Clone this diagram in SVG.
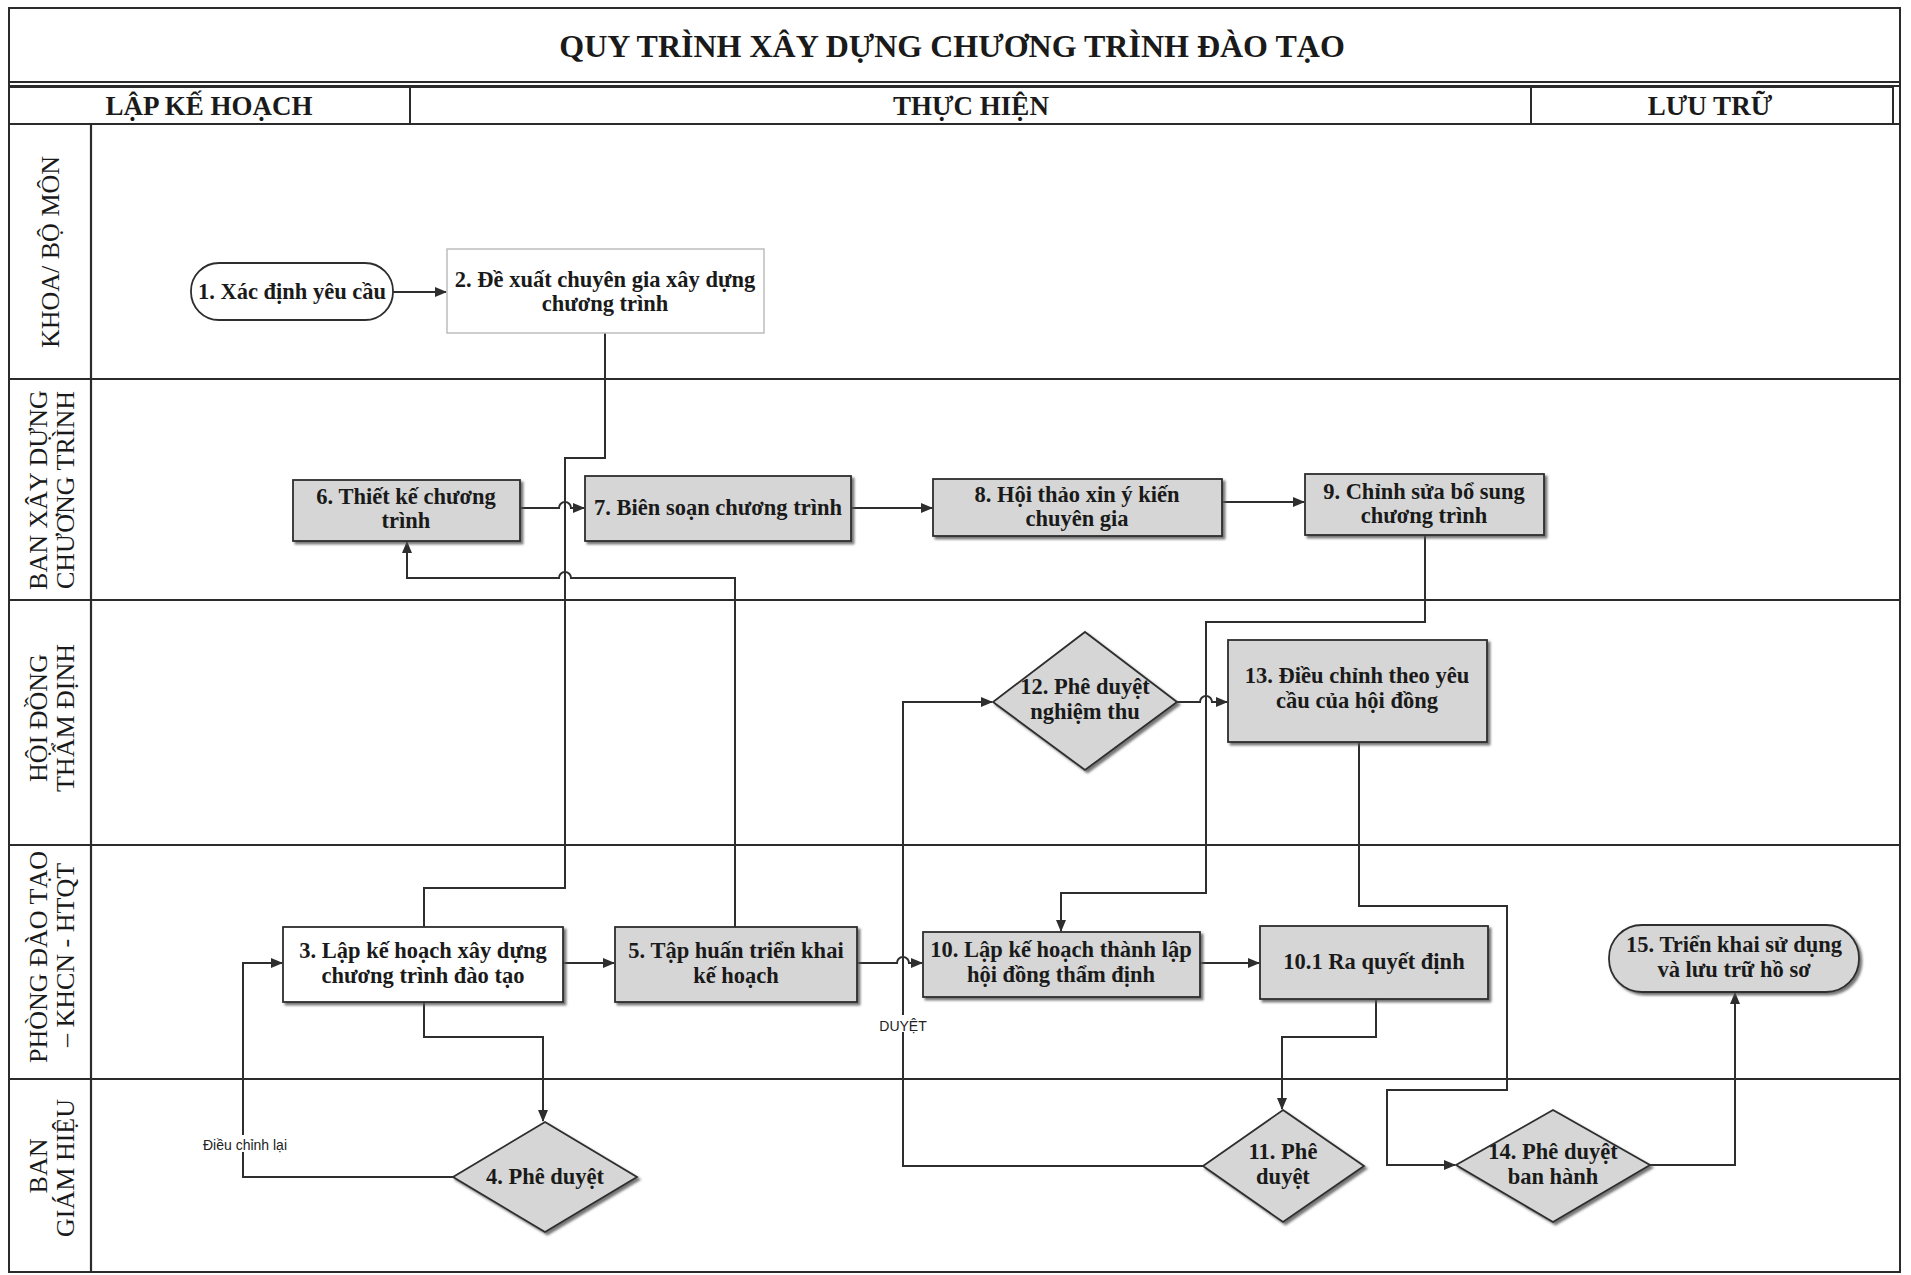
<svg xmlns="http://www.w3.org/2000/svg" width="1911" height="1275" viewBox="0 0 1911 1275">
<defs>
<style>
.frame{fill:none;stroke:#2b2b2b;stroke-width:2}
.lane{stroke:#2b2b2b;stroke-width:2.2;fill:none}
.title{font-family:"Liberation Serif",serif;font-weight:bold;font-size:32px;fill:#1a1a1a}
.hdr{font-family:"Liberation Serif",serif;font-weight:bold;font-size:27px;fill:#1a1a1a}
.lanetxt{font-family:"Liberation Serif",serif;font-size:26px;fill:#1a1a1a}
.nt{font-family:"Liberation Serif",serif;font-weight:bold;font-size:22.5px;fill:#1a1a1a;text-anchor:middle}
.gray{fill:#d6d6d6;stroke:#2e2e2e;stroke-width:1.8}
.white{fill:#ffffff;stroke:#2e2e2e;stroke-width:1.8}
.conn{fill:none;stroke:#2e2e2e;stroke-width:2}
.lbl{font-family:"Liberation Sans",sans-serif;font-size:14px;fill:#222;text-anchor:middle}
</style>
<marker id="arr" markerWidth="12" markerHeight="10" refX="11" refY="5" orient="auto" markerUnits="userSpaceOnUse">
<path d="M0,0 L12,5 L0,10 z" fill="#2e2e2e"/>
</marker>
<filter id="sh" x="-10%" y="-10%" width="130%" height="140%">
<feDropShadow dx="2.5" dy="2.5" stdDeviation="1" flood-color="#555" flood-opacity="0.8"/>
</filter>
</defs>
<rect x="0" y="0" width="1911" height="1275" fill="#ffffff"/>

<g id="frame">
<rect class="frame" x="9" y="8" width="1891" height="1264"/>
<line class="lane" x1="9" y1="82" x2="1900" y2="82"/>
<line class="lane" x1="9" y1="86" x2="1900" y2="86"/>
<rect class="frame" x="9" y="87" width="401" height="37"/>
<rect class="frame" x="410" y="87" width="1121" height="37"/>
<rect class="frame" x="1531" y="87" width="362" height="37"/>
<line class="lane" x1="9" y1="124" x2="1900" y2="124"/>
<line class="lane" x1="9" y1="379" x2="1900" y2="379"/>
<line class="lane" x1="9" y1="600" x2="1900" y2="600"/>
<line class="lane" x1="9" y1="845" x2="1900" y2="845"/>
<line class="lane" x1="9" y1="1079" x2="1900" y2="1079"/>
<line class="lane" x1="91" y1="124" x2="91" y2="1272"/>
<text class="title" x="952" y="57" text-anchor="middle">QUY TRÌNH XÂY DỰNG CHƯƠNG TRÌNH ĐÀO TẠO</text>
<text class="hdr" x="209" y="115" text-anchor="middle">LẬP KẾ HOẠCH</text>
<text class="hdr" x="971" y="115" text-anchor="middle">THỰC HIỆN</text>
<text class="hdr" x="1710" y="115" text-anchor="middle">LƯU TRỮ</text>
</g>

<g id="lanes">
<text class="lanetxt" text-anchor="middle" transform="translate(59,252) rotate(-90)">KHOA/ BỘ MÔN</text>
<text class="lanetxt" text-anchor="middle" transform="translate(47,490) rotate(-90)">BAN XÂY DỰNG</text>
<text class="lanetxt" text-anchor="middle" transform="translate(74,490) rotate(-90)">CHƯƠNG TRÌNH</text>
<text class="lanetxt" text-anchor="middle" transform="translate(47,718) rotate(-90)">HỘI ĐỒNG</text>
<text class="lanetxt" text-anchor="middle" transform="translate(74,718) rotate(-90)">THẨM ĐỊNH</text>
<text class="lanetxt" text-anchor="middle" transform="translate(47,957) rotate(-90)">PHÒNG ĐÀO TẠO</text>
<text class="lanetxt" text-anchor="middle" transform="translate(74,955) rotate(-90)">– KHCN - HTQT</text>
<text class="lanetxt" text-anchor="middle" transform="translate(47,1166) rotate(-90)">BAN</text>
<text class="lanetxt" text-anchor="middle" transform="translate(74,1168) rotate(-90)">GIÁM HIỆU</text>
</g>

<g id="connectors">
<path class="conn" d="M393,292 H446" marker-end="url(#arr)"/>
<path class="conn" d="M605,333 V458 H565 V888 H424 V927"/>
<path class="conn" d="M520,508 H559 A6,6 0 0 1 571,508 H584" marker-end="url(#arr)"/>
<path class="conn" d="M851,508 H932" marker-end="url(#arr)"/>
<path class="conn" d="M1222,502 H1304" marker-end="url(#arr)"/>
<path class="conn" d="M735,927 V578 H571 A6,6 0 0 0 559,578 H407 V542" marker-end="url(#arr)"/>
<path class="conn" d="M1425,535 V622 H1206 V893 H1061 V931" marker-end="url(#arr)"/>
<path class="conn" d="M563,963 H614" marker-end="url(#arr)"/>
<path class="conn" d="M857,963 H897 A6,6 0 0 1 909,963 H922" marker-end="url(#arr)"/>
<path class="conn" d="M1200,963 H1259" marker-end="url(#arr)"/>
<path class="conn" d="M424,1002 V1037 H543 V1121" marker-end="url(#arr)"/>
<path class="conn" d="M453,1177 H243 V963 H282" marker-end="url(#arr)"/>
<path class="conn" d="M1376,999 V1037 H1282 V1109" marker-end="url(#arr)"/>
<path class="conn" d="M1203,1166 H903 V702 H992" marker-end="url(#arr)"/>
<path class="conn" d="M1177,702 H1200 A6,6 0 0 1 1212,702 H1227" marker-end="url(#arr)"/>
<path class="conn" d="M1359,742 V906 H1507 V1090 H1387 V1165 H1455" marker-end="url(#arr)"/>
<path class="conn" d="M1650,1165 H1735 V993" marker-end="url(#arr)"/>
<rect x="218" y="1135" width="54" height="17" fill="#ffffff"/>
<text class="lbl" x="245" y="1150">Điều chỉnh lại</text>
<rect x="880" y="1015" width="46" height="17" fill="#ffffff"/>
<text class="lbl" x="903" y="1031">DUYỆT</text>
</g>

<g id="n1">
<rect class="white" x="191" y="263" width="202" height="57" rx="28" ry="28"/>
<text class="nt" x="292" y="299">1. Xác định yêu cầu</text>
</g>
<g id="n2">
<rect x="447" y="249" width="317" height="84" fill="#ffffff" stroke="#bdbdbd" stroke-width="1.5"/>
<text class="nt" x="605" y="287">2. Đề xuất chuyên gia xây dựng</text>
<text class="nt" x="605" y="311">chương trình</text>
</g>
<g id="n3">
<rect class="white" filter="url(#sh)" x="283" y="927" width="280" height="75"/>
<text class="nt" x="423" y="958">3. Lập kế hoạch xây dựng</text>
<text class="nt" x="423" y="983">chương trình đào tạo</text>
</g>
<g id="n4">
<polygon class="gray" filter="url(#sh)" points="545,1122 637,1177 545,1232 453,1177"/>
<text class="nt" x="545" y="1184">4. Phê duyệt</text>
</g>
<g id="n5">
<rect class="gray" filter="url(#sh)" x="615" y="927" width="242" height="75"/>
<text class="nt" x="736" y="958">5. Tập huấn triển khai</text>
<text class="nt" x="736" y="983">kế hoạch</text>
</g>
<g id="n6">
<rect class="gray" filter="url(#sh)" x="293" y="480" width="227" height="61"/>
<text class="nt" x="406" y="504">6. Thiết kế chương</text>
<text class="nt" x="406" y="528">trình</text>
</g>
<g id="n7">
<rect class="gray" filter="url(#sh)" x="585" y="476" width="266" height="65"/>
<text class="nt" x="718" y="515">7. Biên soạn chương trình</text>
</g>
<g id="n8">
<rect class="gray" filter="url(#sh)" x="933" y="479" width="289" height="57"/>
<text class="nt" x="1077" y="502">8. Hội thảo xin ý kiến</text>
<text class="nt" x="1077" y="526">chuyên gia</text>
</g>
<g id="n9">
<rect class="gray" filter="url(#sh)" x="1305" y="474" width="239" height="61"/>
<text class="nt" x="1424" y="499">9. Chỉnh sửa bổ sung</text>
<text class="nt" x="1424" y="523">chương trình</text>
</g>
<g id="n10">
<rect class="gray" filter="url(#sh)" x="923" y="932" width="277" height="65"/>
<text class="nt" x="1061" y="957">10. Lập kế hoạch thành lập</text>
<text class="nt" x="1061" y="982">hội đồng thẩm định</text>
</g>
<g id="n10_1">
<rect class="gray" filter="url(#sh)" x="1260" y="926" width="228" height="73"/>
<text class="nt" x="1374" y="969">10.1 Ra quyết định</text>
</g>
<g id="n11">
<polygon class="gray" filter="url(#sh)" points="1283,1110 1364,1166 1283,1222 1203,1166"/>
<text class="nt" x="1283" y="1159">11. Phê</text>
<text class="nt" x="1283" y="1184">duyệt</text>
</g>
<g id="n12">
<polygon class="gray" filter="url(#sh)" points="1085,632 1177,702 1085,770 993,702"/>
<text class="nt" x="1085" y="694">12. Phê duyệt</text>
<text class="nt" x="1085" y="719">nghiệm thu</text>
</g>
<g id="n13">
<rect class="gray" filter="url(#sh)" x="1228" y="640" width="259" height="102"/>
<text class="nt" x="1357" y="683">13. Điều chỉnh theo yêu</text>
<text class="nt" x="1357" y="708">cầu của hội đồng</text>
</g>
<g id="n14">
<polygon class="gray" filter="url(#sh)" points="1553,1110 1650,1165 1553,1222 1456,1165"/>
<text class="nt" x="1553" y="1159">14. Phê duyệt</text>
<text class="nt" x="1553" y="1184">ban hành</text>
</g>
<g id="n15">
<rect class="gray" filter="url(#sh)" x="1609" y="925" width="250" height="67" rx="33" ry="33"/>
<text class="nt" x="1734" y="952">15. Triển khai sử dụng</text>
<text class="nt" x="1734" y="977">và lưu trữ hồ sơ</text>
</g>
</svg>
